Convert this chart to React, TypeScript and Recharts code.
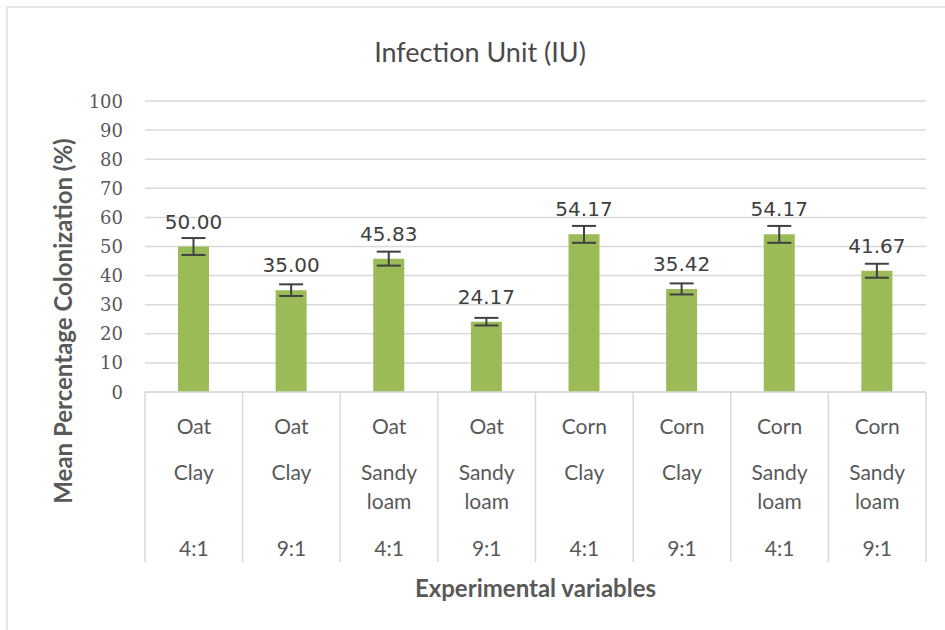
import React from 'react';
import { BarChart, Bar, XAxis, YAxis, CartesianGrid, ErrorBar, LabelList, Label } from 'recharts';

const crops = ['Oat', 'Oat', 'Oat', 'Oat', 'Corn', 'Corn', 'Corn', 'Corn'];
const soils = ['Clay', 'Clay', 'Sandy loam', 'Sandy loam', 'Clay', 'Clay', 'Sandy loam', 'Sandy loam'];
const ratios = ['4:1', '9:1', '4:1', '9:1', '4:1', '9:1', '4:1', '9:1'];
const meanColonization = [50.0, 35.0, 45.83, 24.17, 54.17, 35.42, 54.17, 41.67];
const stdErrors = [2.9, 2.0, 2.4, 1.3, 2.9, 1.9, 2.9, 2.4];
const yTicks = [0, 10, 20, 30, 40, 50, 60, 70, 80, 90, 100];

const chartData = crops.map((crop, i) => ({
  name: `${crop} ${soils[i]} ${ratios[i]}`,
  value: meanColonization[i],
  err: stdErrors[i],
}));

const textGray = '#595959';
const gridGray = '#d9d9d9';

const CategoryTick = (props: any) => {
  const { x, y, payload, index } = props;
  const half = payload.offset || 0;
  const soilLines = soils[index].split(' ');
  const style = { fontFamily: 'Lato', fontSize: 21, fill: textGray };
  return (
    <g>
      <line x1={x - half} y1={y} x2={x - half} y2={y + 170} stroke={gridGray} strokeWidth={1.5} />
      {index === chartData.length - 1 && (
        <line x1={x + half} y1={y} x2={x + half} y2={y + 170} stroke={gridGray} strokeWidth={1.5} />
      )}
      <text x={x} y={y + 33} textAnchor="middle" dominantBaseline="central" {...style}>
        {crops[index]}
      </text>
      {soilLines.map((s, k) => (
        <text key={k} x={x} y={y + 79 + k * 29} textAnchor="middle" dominantBaseline="central" {...style}>
          {s}
        </text>
      ))}
      <text x={x} y={y + 155} textAnchor="middle" dominantBaseline="central" {...style}>
        {ratios[index]}
      </text>
    </g>
  );
};

const ValueTick = (props: any) => {
  const { x, y, payload } = props;
  return (
    <text
      x={x}
      y={y}
      textAnchor="end"
      dominantBaseline="central"
      fontFamily="DejaVu Serif"
      fontSize={18}
      fill={textGray}
    >
      {payload.value}
    </text>
  );
};

const ValueLabel = (props: any) => {
  const { x, y, width, value } = props;
  return (
    <text
      x={x + width / 2}
      y={y - 25}
      textAnchor="middle"
      dominantBaseline="central"
      fontFamily="DejaVu Sans"
      fontSize={20}
      fill="#404040"
    >
      {Number(value).toFixed(2)}
    </text>
  );
};

export default function App() {
  return (
    <div style={{ position: 'absolute', left: 0, top: 0, width: 945, height: 630, background: '#fff', overflow: 'hidden' }}>
      <div
        style={{
          position: 'absolute',
          left: 6,
          top: 6,
          width: 960,
          height: 640,
          borderLeft: '2px solid #e6e6e6',
          borderTop: '2px solid #e6e6e6',
        }}
      />
      <div
        style={{
          position: 'absolute',
          left: 145,
          width: 670,
          top: 34,
          textAlign: 'center',
          fontFamily: 'Lato',
          fontSize: 27,
          color: '#4a4a4a',
          lineHeight: '36px',
        }}
      >
        Infection Unit (IU)
      </div>
      <div style={{ position: 'absolute', left: 0, top: 0 }}>
        <BarChart
          width={945}
          height={630}
          data={chartData}
          margin={{ top: 101, right: 19, left: 0, bottom: 0 }}
          barSize={31}
        >
          <CartesianGrid vertical={false} stroke={gridGray} strokeWidth={1.5} />
          <XAxis
            dataKey="name"
            interval={0}
            height={238}
            tickLine={false}
            tickSize={0}
            tickMargin={0}
            axisLine={{ stroke: gridGray, strokeWidth: 1.5 }}
            tick={<CategoryTick />}
          >
            <Label
              value="Experimental variables"
              position="insideBottom"
              offset={33}
              style={{ fontFamily: 'Lato', fontWeight: 700, fontSize: 24, fill: textGray }}
            />
          </XAxis>
          <YAxis
            width={145}
            domain={[0, 100]}
            ticks={yTicks}
            interval={0}
            axisLine={false}
            tickLine={false}
            tickSize={0}
            tickMargin={22}
            tick={<ValueTick />}
          >
            <Label
              content={() => (
                <text
                  x={62}
                  y={321}
                  transform="rotate(-90 62 321)"
                  textAnchor="middle"
                  dominantBaseline="central"
                  fontFamily="Lato"
                  fontWeight={700}
                  fontSize={24}
                  fill={textGray}
                >
                  Mean Percentage Colonization (%)
                </text>
              )}
            />
          </YAxis>
          <Bar dataKey="value" fill="#9bbb59" isAnimationActive={false}>
            <ErrorBar dataKey="err" width={12} stroke="#404040" strokeWidth={2} direction="y" />
            <LabelList dataKey="value" content={<ValueLabel />} />
          </Bar>
        </BarChart>
      </div>
    </div>
  );
}
